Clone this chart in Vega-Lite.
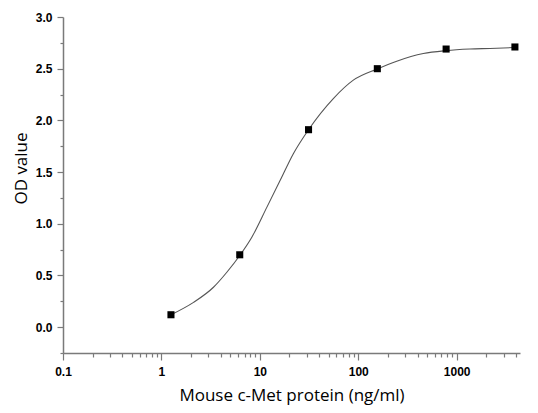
{
  "$schema": "https://vega.github.io/schema/vega-lite/v6.json",
  "width": 457,
  "height": 336,
  "autosize": "none",
  "padding": {"left": 63, "top": 17, "right": 18, "bottom": 60},
  "background": "white",
  "config": {
    "view": {"stroke": null},
    "axis": {
      "grid": false,
      "domainColor": "#7a7a7a",
      "domainWidth": 1.5,
      "tickColor": "#7a7a7a",
      "tickWidth": 1.2,
      "labelColor": "black",
      "labelFont": "Liberation Sans",
      "labelFontWeight": "bold",
      "labelFontSize": 12,
      "titleFont": "Open Sans",
      "titleFontWeight": "normal",
      "titleFontSize": 17,
      "titleColor": "black"
    }
  },
  "datasets": {
    "curve": [
      {"conc": 1.25, "od": 0.12},
      {"conc": 2.12, "od": 0.24},
      {"conc": 3.38, "od": 0.386},
      {"conc": 4.62, "od": 0.531},
      {"conc": 6.25, "od": 0.693},
      {"conc": 8.29, "od": 0.87},
      {"conc": 11.8, "od": 1.161},
      {"conc": 16.1, "od": 1.42},
      {"conc": 21.9, "od": 1.678},
      {"conc": 31.25, "od": 1.91},
      {"conc": 55.8, "od": 2.211},
      {"conc": 89.1, "od": 2.389},
      {"conc": 156.25, "od": 2.498},
      {"conc": 246, "od": 2.573},
      {"conc": 458, "od": 2.647},
      {"conc": 781.25, "od": 2.675},
      {"conc": 1365, "od": 2.69},
      {"conc": 2178, "od": 2.696},
      {"conc": 3906.25, "od": 2.705}
    ],
    "points": [
      {"conc": 1.25, "od": 0.12},
      {"conc": 6.25, "od": 0.7},
      {"conc": 31.25, "od": 1.91},
      {"conc": 156.25, "od": 2.5},
      {"conc": 781.25, "od": 2.69},
      {"conc": 3906.25, "od": 2.71}
    ]
  },
  "resolve": {"axis": {"x": "independent", "y": "independent"}},
  "layer": [
    {
      "data": {"name": "curve"},
      "mark": {"type": "line", "interpolate": "monotone", "color": "#555555", "strokeWidth": 1.1},
      "encoding": {
        "x": {
          "field": "conc",
          "type": "quantitative",
          "scale": {"type": "log", "domain": [0.1, 4400], "nice": false},
          "axis": {
            "orient": "bottom",
            "title": "Mouse c-Met protein (ng/ml)",
            "values": [0.1, 1, 10, 100, 1000],
            "format": "~g",
            "tickSize": 7,
            "labelPadding": 6,
            "labelFlush": false,
            "titleBaseline": "alphabetic",
            "titleY": 47
          }
        },
        "y": {
          "field": "od",
          "type": "quantitative",
          "scale": {"domain": [-0.25, 3.0], "nice": false, "zero": false},
          "axis": {
            "orient": "left",
            "title": "OD value",
            "values": [0, 0.5, 1, 1.5, 2, 2.5, 3],
            "format": ".1f",
            "tickSize": 6,
            "labelPadding": 5,
            "labelFlush": false,
            "titleBaseline": "alphabetic",
            "titleAnchor": "middle",
            "titleX": -37,
            "titleY": 151
          }
        }
      }
    },
    {
      "data": {"name": "points"},
      "mark": {"type": "point", "shape": "square", "filled": true, "color": "black", "size": 50, "opacity": 1},
      "encoding": {
        "x": {
          "field": "conc",
          "type": "quantitative",
          "axis": {
            "orient": "bottom",
            "title": null,
            "labels": false,
            "domain": false,
            "tickSize": 4,
            "values": [0.2, 0.3, 0.4, 0.5, 0.6, 0.7, 0.8, 0.9, 2, 3, 4, 5, 6, 7, 8, 9, 20, 30, 40, 50, 60, 70, 80, 90, 200, 300, 400, 500, 600, 700, 800, 900, 2000, 3000, 4000]
          }
        },
        "y": {
          "field": "od",
          "type": "quantitative",
          "axis": {
            "orient": "left",
            "title": null,
            "labels": false,
            "domain": false,
            "tickSize": 3,
            "values": [-0.25, 0.25, 0.75, 1.25, 1.75, 2.25, 2.75]
          }
        }
      }
    }
  ]
}
